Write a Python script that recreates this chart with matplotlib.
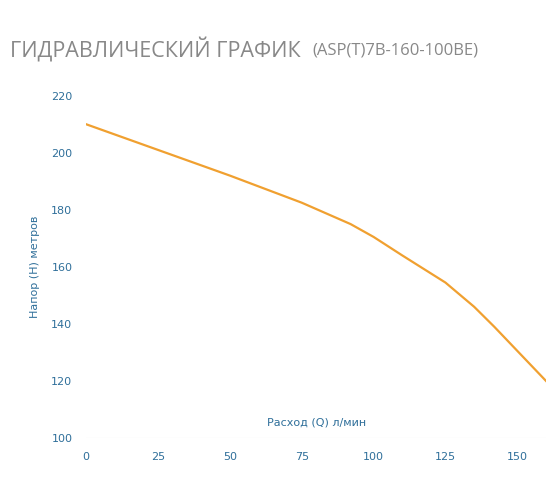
import matplotlib.pyplot as plt

# данные кривой
flow = [0, 25, 50, 75, 92, 100, 110, 125, 135, 142, 160]
head = [210, 201, 192, 182.5, 175, 170.5, 164, 154.5, 146, 139, 120]
x_ticks = [0, 25, 50, 75, 100, 125, 150]
y_ticks = [100, 120, 140, 160, 180, 200, 220]

tick_color = '#2f6f9a'
fig = plt.figure(figsize=(5.6, 5.04), dpi=100)
ax = fig.add_axes([0.154, 0.131, 0.821, 0.679])
ax.plot(flow, head, color='#f0a030', lw=1.6)
ax.set_xlim(0, 160)
ax.set_ylim(100, 220)
ax.set_xticks(x_ticks)
ax.set_yticks(y_ticks)
for s in ax.spines.values():
    s.set_visible(False)
ax.axhline(100, color='#e8e8e8', lw=0.8)
ax.tick_params(length=0, colors=tick_color, labelsize=8, pad=10)
ax.text(0.5, 0.03, 'Расход (Q) л/мин', transform=ax.transAxes, ha='center',
        va='bottom', color=tick_color, fontsize=8)
fig.text(0.063, 0.47, 'Напор (H) метров', rotation=90, ha='center', va='center',
         color=tick_color, fontsize=8)
fig.text(0.018, 0.9, 'ГИДРАВЛИЧЕСКИЙ ГРАФИК', color='#888888', fontsize=15.5,
         va='center', family='Open Sans')
fig.text(0.557, 0.9, '(ASP(T)7B-160-100BE)', color='#888888', fontsize=12,
         va='center', family='Open Sans')
fig.savefig('out.png', dpi=100)
